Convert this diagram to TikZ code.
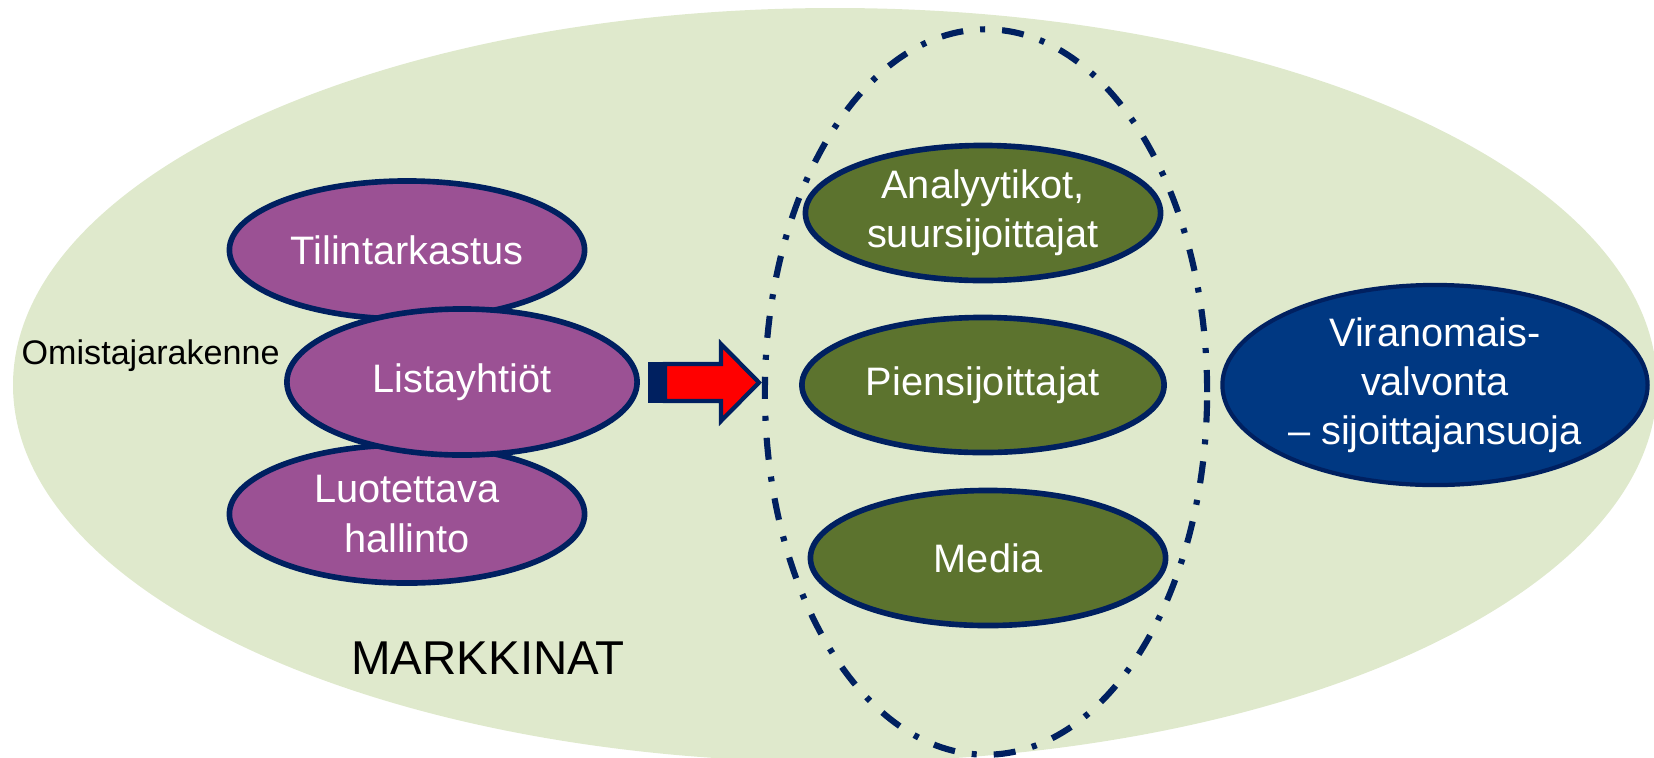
\documentclass[tikz,border=0pt]{standalone}
\usepackage{fontspec}
\setmainfont{Liberation Sans}
\usetikzlibrary{shapes.geometric}
\definecolor{bggreen}{RGB}{223,233,204}
\definecolor{navy}{RGB}{0,32,96}
\definecolor{purp}{RGB}{155,81,148}
\definecolor{olive}{RGB}{92,115,46}
\definecolor{blfill}{RGB}{0,56,130}
\tikzset{
  oval/.style={ellipse, draw=navy, line width=1.6pt, text=white, align=center,
    font=\fontsize{11.3}{14}\selectfont, inner sep=0pt},
  purpleoval/.style={oval, fill=purp},
  greenoval/.style={oval, fill=olive},
  blueoval/.style={oval, fill=blfill, line width=1.2pt},
  groupoval/.style={ellipse, draw=navy, line width=1.75pt,
    dash pattern=on 0.22cm off 0.17cm on 0.05cm off 0.17cm, inner sep=0pt},
}
\begin{document}
\begin{tikzpicture}[x=0.01cm, y=-0.01cm]
\useasboundingbox (0,0) rectangle (1654,757);
\begin{scope}
  \clip (0,0) rectangle (1654,757);
  \fill[bggreen] (835,385) ellipse [x radius=822, y radius=377];
\end{scope}
\node[groupoval, minimum width=4.42cm, minimum height=7.25cm] (grp) at (986,392) {};
\node[purpleoval, minimum width=3.55cm, minimum height=1.38cm] (tili) at (407,250) {Tilintarkastus};
\node[purpleoval, minimum width=3.55cm, minimum height=1.38cm] (luot) at (407,514) {Luotettava\\hallinto};
\node[purpleoval, minimum width=3.50cm, minimum height=1.46cm] (lista) at (462,382) {Listayhtiöt};
\node[greenoval, minimum width=3.55cm, minimum height=1.35cm] (anal) at (983,213) {Analyytikot,\\suursijoittajat};
\node[greenoval, minimum width=3.62cm, minimum height=1.35cm] (pien) at (983,385) {Piensijoittajat};
\node[greenoval, minimum width=3.55cm, minimum height=1.35cm] (media) at (988,558) {Media};
\node[blueoval, minimum width=4.25cm, minimum height=2.0cm] (vira) at (1435,385) {Viranomais-\\valvonta\\– sijoittajansuoja};
\node[anchor=west, font=\fontsize{9.7}{11}\selectfont, inner sep=0pt] (omis) at (21,356) {Omistajarakenne};
\node[font=\fontsize{13.5}{16}\selectfont, inner sep=0pt] (mark) at (488,658) {MARKKINAT};
% block arrow from Listayhtiot toward the group
\coordinate (arrA) at (648,362);
\coordinate (arrB) at (665,403);
\fill[navy] (arrA) rectangle (arrB);
\draw[navy, line width=1.2pt, fill=red, line join=miter]
  (665,364) -- (721,364) -- (721,344) -- (759,382.5) -- (721,421) -- (721,401) -- (665,401) -- cycle;
\end{tikzpicture}
\end{document}
